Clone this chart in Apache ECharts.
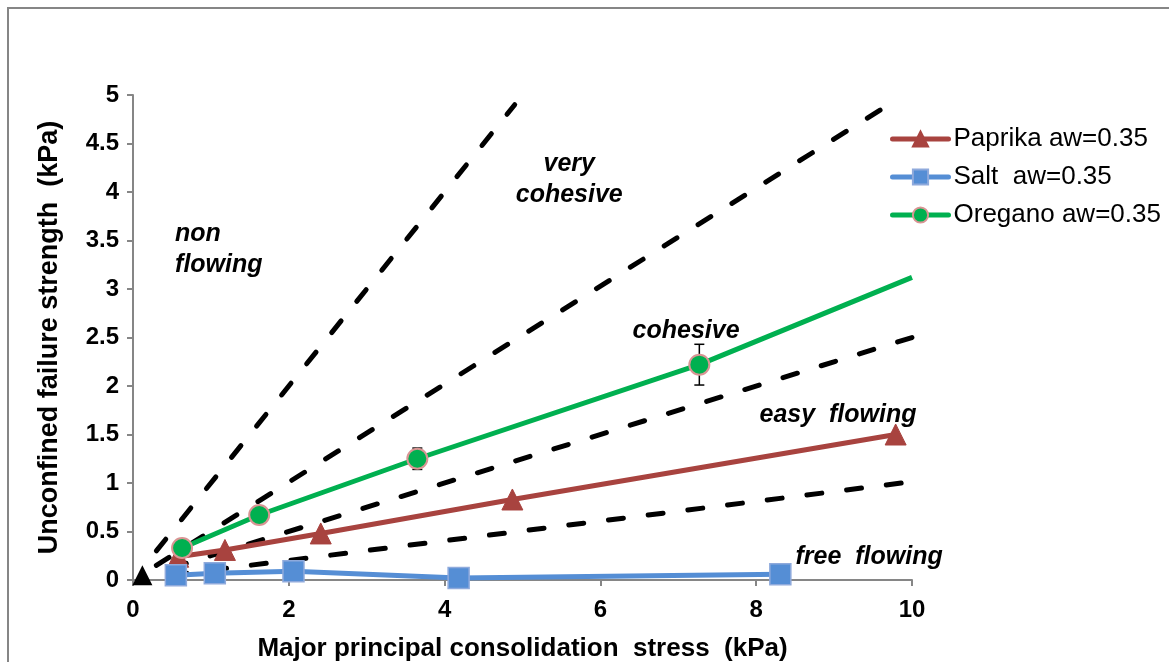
<!DOCTYPE html>
<html>
<head>
<meta charset="utf-8">
<script src="https://cdn.jsdelivr.net/npm/echarts@6/dist/echarts.min.js"></script>
<style>html,body{margin:0;padding:0;background:#fff}#c{width:1169px;height:662px}</style>
</head>
<body>
<div id="c"></div>
<script>
// ---- data ----
var paprikaX = [0.58, 1.18, 2.41, 4.87, 9.79];
var paprikaY = [0.24, 0.31, 0.48, 0.83, 1.50];
var saltX = [0.55, 1.05, 2.06, 4.18, 8.31];
var saltY = [0.05, 0.07, 0.09, 0.02, 0.06];
var oreganoX = [0.63, 1.62, 3.65, 7.27, 10.0];
var oreganoY = [0.33, 0.67, 1.25, 2.22, 3.12];
var oreganoErr = [0, 0, 0.11, 0.21, 0];
var oreganoMarker = [true, true, true, true, false];
var originX = [0.12];
var originY = [0.05];
// flowability boundary lines (start, end)
var boundaryX = [[0.3, 4.9], [0.3, 9.8], [0.5, 10.0], [0.5, 9.87]];
var boundaryY = [[0.3, 4.9], [0.15, 4.95], [0.125, 2.5], [0.05, 1.0]];
// region annotations
var regionX = [0.54, 5.6, 7.1, 9.05, 9.45];
var regionY = [3.41, 4.13, 2.57, 1.70, 0.24];
var regionText = ['non\nflowing', 'very\ncohesive', 'cohesive', 'easy  flowing', 'free  flowing'];
var regionAlign = ['left', 'center', 'center', 'center', 'center'];
var seriesNames = ['Paprika aw=0.35', 'Salt  aw=0.35', 'Oregano aw=0.35'];
var xTicks = [0, 2, 4, 6, 8, 10];
var yTicks = [0, 0.5, 1, 1.5, 2, 2.5, 3, 3.5, 4, 4.5, 5];

function zip(a, b) { return a.map(function (v, i) { return [v, b[i]]; }); }

var FONT = 'Liberation Sans, Arial, sans-serif';
var chart = echarts.init(document.getElementById('c'));

var series = [];
boundaryX.forEach(function (bx, i) {
  series.push({
    type: 'line', silent: true, symbol: 'none', z: 2,
    data: zip(bx, boundaryY[i]),
    lineStyle: { color: '#000', width: 5, type: [15, 25], cap: 'round' }
  });
});
series.push({
  type: 'scatter', silent: true, symbol: 'triangle', symbolSize: 20, z: 3,
  itemStyle: { color: '#000', opacity: 1 },
  data: zip(originX, originY)
});
series.push({
  name: seriesNames[0], type: 'line', z: 5,
  data: zip(paprikaX, paprikaY),
  symbol: 'triangle', symbolSize: 21,
  lineStyle: { color: '#A8433F', width: 5 },
  itemStyle: { color: '#A8433F', borderColor: '#A8433F', borderWidth: 1 }
});
series.push({
  name: seriesNames[1], type: 'line', z: 5,
  data: zip(saltX, saltY),
  symbol: 'rect', symbolSize: 21,
  lineStyle: { color: '#558ED5', width: 5 },
  itemStyle: { color: '#558ED5', borderColor: '#8FAADC', borderWidth: 1.5 }
});
series.push({
  name: seriesNames[2], type: 'line', z: 5,
  data: oreganoX.map(function (x, i) {
    return oreganoMarker[i] ? [x, oreganoY[i]] : { value: [x, oreganoY[i]], symbol: 'none' };
  }),
  symbol: 'circle', symbolSize: 20,
  lineStyle: { color: '#00B050', width: 5 },
  itemStyle: { color: '#00B050', borderColor: '#D99594', borderWidth: 2 }
});
series.push({
  type: 'custom', silent: true, z: 4,
  data: oreganoX.map(function (x, i) { return [x, oreganoY[i] - oreganoErr[i], oreganoY[i] + oreganoErr[i]]; })
    .filter(function (d, i) { return oreganoErr[i] > 0; }),
  renderItem: function (params, api) {
    var lo = api.coord([api.value(0), api.value(1)]);
    var hi = api.coord([api.value(0), api.value(2)]);
    var w = 5;
    var st = { stroke: '#000', lineWidth: 1.5 };
    return { type: 'group', children: [
      { type: 'line', shape: { x1: lo[0], y1: lo[1], x2: hi[0], y2: hi[1] }, style: st },
      { type: 'line', shape: { x1: lo[0] - w, y1: lo[1], x2: lo[0] + w, y2: lo[1] }, style: st },
      { type: 'line', shape: { x1: hi[0] - w, y1: hi[1], x2: hi[0] + w, y2: hi[1] }, style: st }
    ]};
  }
});
series.push({
  type: 'scatter', silent: true, symbolSize: 0, z: 6,
  itemStyle: { opacity: 1 },
  data: regionX.map(function (x, i) {
    return {
      value: [x, regionY[i]],
      label: {
        show: true, position: 'inside', formatter: regionText[i], align: regionAlign[i],
        verticalAlign: 'middle', fontFamily: FONT, fontSize: 25, fontWeight: 'bold',
        fontStyle: 'italic', color: '#000', lineHeight: 31, opacity: 1
      }
    };
  })
});

chart.setOption({
  animation: false,
  backgroundColor: '#fff',
  graphic: [{
    type: 'rect', shape: { x: 8, y: 8, width: 1200, height: 700 },
    style: { fill: 'none', stroke: '#868686', lineWidth: 2 }, silent: true
  }],
  grid: { left: 133, right: 257, top: 95, bottom: 82, containLabel: false, outerBoundsMode: 'none' },
  legend: {
    data: seriesNames, orient: 'vertical', left: 890, top: 126, padding: 0,
    itemWidth: 56, itemHeight: 19, itemGap: 12,
    lineStyle: { width: 5, cap: 'round' },
    textStyle: { fontFamily: FONT, fontSize: 26, color: '#000' }
  },
  xAxis: {
    type: 'value', min: 0, max: 10, interval: 2,
    name: 'Major principal consolidation  stress  (kPa)', nameLocation: 'middle', nameGap: 56,
    nameTextStyle: { fontFamily: FONT, fontSize: 26, fontWeight: 'bold', color: '#000' },
    axisLine: { show: true, lineStyle: { color: '#868686', width: 2 } },
    axisTick: { show: true, length: 6, inside: false, lineStyle: { color: '#868686', width: 2 } },
    axisLabel: { fontFamily: FONT, fontSize: 24, fontWeight: 'bold', color: '#000', margin: 18,
      formatter: function (v) { return xTicks.indexOf(v) >= 0 ? String(v) : ''; } },
    splitLine: { show: false }
  },
  yAxis: {
    type: 'value', min: 0, max: 5, interval: 0.5,
    name: 'Unconfined failure strength  (kPa)', nameLocation: 'middle', nameGap: 70,
    nameTextStyle: { fontFamily: FONT, fontSize: 27, fontWeight: 'bold', color: '#000' },
    axisLine: { show: true, lineStyle: { color: '#868686', width: 2 } },
    axisTick: { show: true, length: 6, inside: false, lineStyle: { color: '#868686', width: 2 } },
    axisLabel: { fontFamily: FONT, fontSize: 24, fontWeight: 'bold', color: '#000', margin: 14,
      formatter: function (v) { return yTicks.indexOf(v) >= 0 ? String(v) : ''; } },
    splitLine: { show: false }
  },
  series: series
});
</script>
</body>
</html>
